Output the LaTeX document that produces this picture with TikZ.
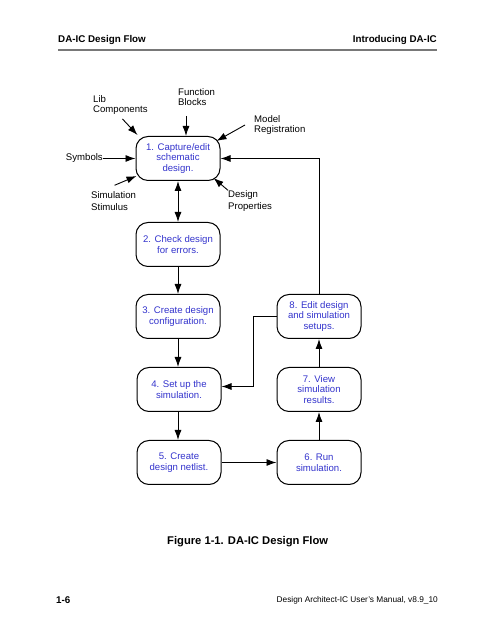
\documentclass[tikz,border=0pt]{standalone}
\usepackage{fontspec}
\setmainfont{Liberation Sans}
\usetikzlibrary{arrows.meta}
\definecolor{stageblue}{RGB}{51,51,204}
\definecolor{rulegray}{RGB}{120,120,120}
\begin{document}
\begin{tikzpicture}[x=1pt,y=1pt,
  stage/.style={draw,line width=1pt,rounded corners=12pt,minimum width=84pt,minimum height=44pt,
    align=center,inner sep=0pt,text=stageblue,font=\fontsize{9.6}{10.5}\selectfont},
  lbl/.style={align=left,inner sep=0pt,font=\fontsize{9.6}{10.5}\selectfont},
  lblwide/.style={lbl,font=\fontsize{9.6}{12}\selectfont},
  arr/.style={line width=.9pt,-{Latex[length=10pt,width=7pt]}},
  arrboth/.style={line width=.9pt,{Latex[length=10pt,width=7pt]}-{Latex[length=10pt,width=7pt]}}]
\useasboundingbox (0,0) rectangle (495,640);
% page header and footer
\node[anchor=west,inner sep=0pt,font=\fontsize{9.8}{11}\selectfont\bfseries] (head) at (58,600) {DA-IC Design Flow};
\node[anchor=east,inner sep=0pt,font=\fontsize{9.8}{11}\selectfont\bfseries] (chap) at (437,600) {Introducing DA-IC};
\draw[rulegray,line width=1.5pt] (58,590) -- (437,590);
\node[anchor=west,inner sep=0pt,font=\fontsize{11.2}{13}\selectfont\bfseries] (cap) at (167,98) {Figure 1-1. DA-IC Design Flow};
\node[anchor=west,inner sep=0pt,font=\fontsize{9.8}{11}\selectfont\bfseries] (pg) at (56,40) {1-6};
\node[anchor=east,inner sep=0pt,font=\fontsize{8.3}{10}\selectfont] (man) at (438,40) {Design Architect-IC User's Manual, v8.9\_10};
%
% flow stages
\node[stage] (capture) at (178,481.5) {1. Capture/edit\\schematic\\design.};
\node[stage] (check) at (178,395.5) {2. Check design\\for errors.};
\node[stage] (config) at (178,323.5) {3. Create design\\configuration.};
\node[stage] (setup) at (179,250.5) {4. Set up the\\simulation.};
\node[stage] (netlist) at (179,177.5) {5. Create\\design netlist.};
\node[stage] (run) at (319,177.5) {6. Run\\simulation.};
\node[stage] (view) at (319,250.5) {7. View\\simulation\\results.};
\node[stage] (edit) at (319,323.5) {8. Edit design\\and simulation\\setups.};
%
% inputs to stage 1
\node[lbl,anchor=east] (sym) at (103,481.5) {Symbols};
\node[lbl,anchor=west] (lib) at (93,535) {Lib\\Components};
\node[lbl,anchor=west] (func) at (178,543) {Function\\Blocks};
\node[lbl,anchor=west] (model) at (254,515) {Model\\Registration};
\node[lblwide,anchor=west] (stim) at (91,439) {Simulation\\Stimulus};
\node[lblwide,anchor=west] (prop) at (228,439) {Design\\Properties};
\draw[arr] (sym.east) -- (capture.west);
\draw[arr] ([shift={(2pt,-4pt)}]lib.south) -- ([shift={(2pt,1pt)}]capture.north west);
\draw[arr] ([shift={(8pt,-10pt)}]func.south west) -- ([xshift=8pt]func.south west |- capture.north);
\draw[arr] ([xshift=-9pt]model.west) -- ([shift={(-4pt,-5pt)}]capture.north east);
\draw[arr] ([shift={(1pt,6pt)}]stim.north) -- ([shift={(1pt,5pt)}]capture.south west);
\draw[arr] (prop.north west) -- ([shift={(-7pt,3pt)}]capture.south east);
%
% flow
\draw[arrboth] (capture) -- (check);
\draw[arr] (check) -- (config);
\draw[arr] (config) -- (config |- setup.north);
\draw[arr] (setup.south -| config) -- (config |- netlist.north);
\draw[arr] (netlist) -- (run);
\draw[arr] (run) -- (view);
\draw[arr] (view) -- (edit);
\draw[arr] (edit.north) |- (capture.east);
\draw[arr] (edit.west) -- ++(-23pt,0) |- ([yshift=3pt]setup.east);
\end{tikzpicture}
\end{document}
